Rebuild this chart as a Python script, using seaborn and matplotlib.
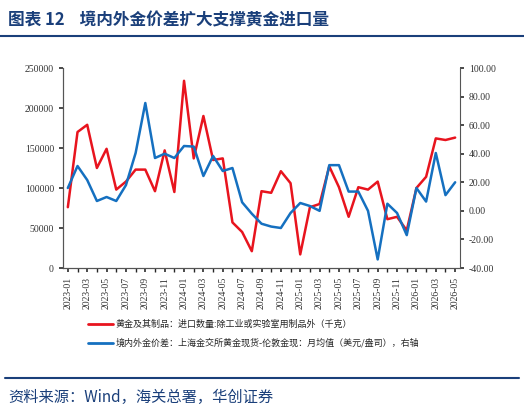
import matplotlib.pyplot as plt
import pandas as pd
import seaborn as sns

months = pd.date_range("2023-01", "2026-05", freq="MS").strftime("%Y-%m").tolist()
imports = [76000, 170000, 179000, 125000, 149000, 98000, 108000, 123000, 123000, 96000,
           147000, 95000, 234000, 137000, 190000, 135000, 137000, 57000, 45000, 21000,
           96000, 94000, 121000, 106000, 17000, 76000, 80000, 127000, 101000, 64000,
           101000, 98000, 108000, 61000, 64000, 47000, 100000, 114000, 162000, 160000, 163000]
spread = [16, 31.4, 21.6, 6.9, 9.7, 6.9, 18, 40.5, 75.5, 37, 40, 37, 45.4, 45, 24.4, 38.4,
          27.9, 30, 6, -2, -9, -11, -12, -1.5, 5.5, 3.4, 0, 32, 32, 13.5, 13.5, 0, -34, 5,
          -1.5, -17, 16, 6.5, 40.5, 11, 20]

sns.set_theme(style="white")
plt.rcParams["font.family"] = ["Noto Sans CJK SC", "DejaVu Sans"]

df = pd.DataFrame({"month": months, "imports": imports, "spread": spread, "i": range(len(months))})

fig = plt.figure(figsize=(5.24, 4.13), dpi=100)
ax = fig.add_axes([63 / 524, 1 - 268 / 413, 397 / 524, 200 / 413])
ax2 = ax.twinx()

red, blue = "#e8141e", "#1570c0"
sns.lineplot(data=df, x="i", y="imports", ax=ax, color=red, lw=1.8)
sns.lineplot(data=df, x="i", y="spread", ax=ax2, color=blue, lw=1.8)

ax.set_ylim(0, 250000)
ax.set_yticks(range(0, 250001, 50000))
ax2.set_ylim(-40, 100)
ax2.set_yticks(range(-40, 101, 20))
ax2.set_yticklabels([f"{v:.2f}" for v in range(-40, 101, 20)])
ax.set_xlim(-0.5, len(months) - 0.5)
ax.set_xticks(range(0, len(months), 2))
ax.set_xticklabels(months[::2], rotation=90)
ax.set_xticks(range(len(months)), minor=True)
for a in (ax, ax2):
    a.set_xlabel("")
    a.set_ylabel("")
    a.tick_params(labelsize=7, length=3, direction="out", colors="#333333")
    for lab in a.get_xticklabels() + a.get_yticklabels():
        lab.set_family("Liberation Serif")
    a.spines["top"].set_visible(False)
    for s in ("left", "right", "bottom"):
        a.spines[s].set_color("#555555")
        a.spines[s].set_linewidth(0.8)
ax.tick_params(axis="x", which="both", bottom=True, length=3)
ax.tick_params(axis="y", left=True)
ax2.tick_params(axis="y", right=True)
ax.spines["right"].set_visible(False)

h1, = ax.plot([], [], color=red, lw=2)
h2, = ax.plot([], [], color=blue, lw=2)
fig.legend([h1, h2],
           ["黄金及其制品：进口数量:除工业或实验室用制品外（千克）",
            "境内外金价差：上海金交所黄金现货-伦敦金现：月均值（美元/盎司），右轴"],
           loc="upper left", bbox_to_anchor=(80 / 524, 1 - 312 / 413), frameon=False,
           fontsize=6.5, handlelength=2.8, labelspacing=1.0, handletextpad=0.2)

fig.text(8 / 524, 1 - 20 / 413, "图表 12    境内外金价差扩大支撑黄金进口量", fontsize=12,
         fontweight="bold", color="#1a3f7a", va="center")
fig.add_artist(plt.Line2D([0, 1], [1 - 36 / 413] * 2, color="#1a3f7a", lw=1.5))
fig.add_artist(plt.Line2D([5 / 524, 519 / 524], [1 - 378 / 413] * 2, color="#1a3f7a", lw=1.5))
fig.text(8 / 524, 1 - 397 / 413, "资料来源：Wind，海关总署，华创证券", fontsize=11,
         style="italic", color="#1a3f7a", va="center")

fig.savefig("out.png", dpi=100)
